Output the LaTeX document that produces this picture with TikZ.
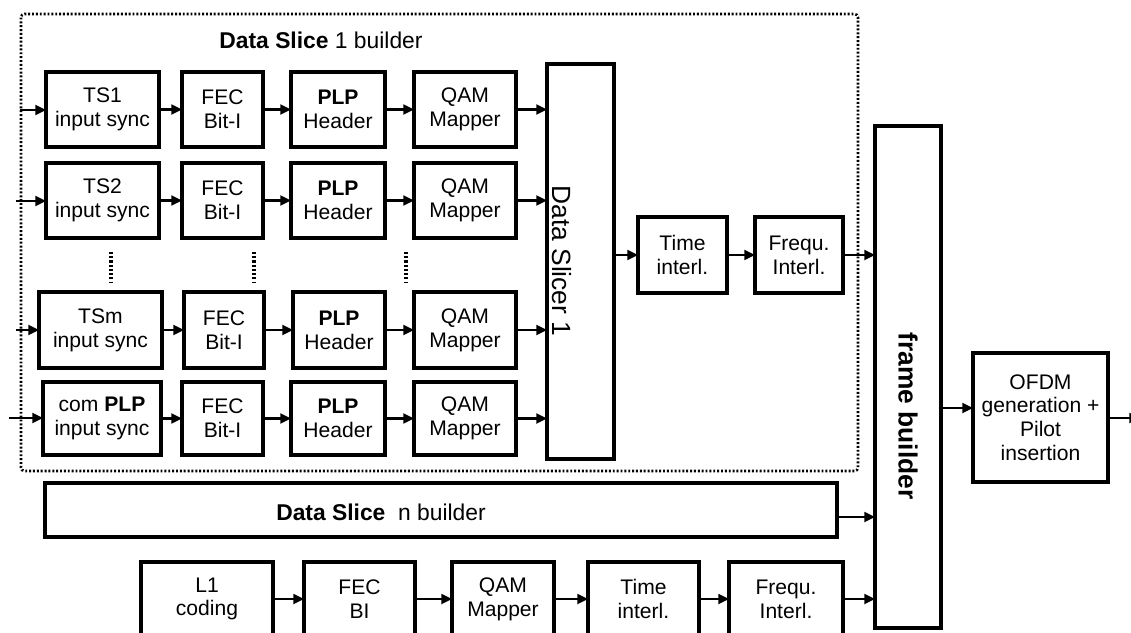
\documentclass[tikz,border=0pt]{standalone}
\usepackage{fontspec}
\setmainfont{Liberation Sans}
\usetikzlibrary{arrows.meta}
\newcommand{\blk}[7][]{\node[blk,#1,minimum width={(#5-#3)*0.02cm},minimum height={(#6-#4)*0.02cm}] (#2) at ({(#3+#5)/2},{(#4+#6)/2}) {#7};}
\tikzset{
  blk/.style={draw, line width=1.8pt, rectangle, inner sep=0pt, outer sep=0pt, align=center, fill=white, font=\fontsize{12}{13.5}\selectfont},
  arr/.style={line width=1.5pt, -{Triangle[length=6pt,width=5.5pt]}},
  dotbox/.style={line width=1.5pt, dash pattern=on 1.1pt off 1.1pt, rounded corners=2pt},
  vdot/.style={line width=1.8pt, dash pattern=on 1.2pt off 1.2pt},
  big/.style={font=\fontsize{15}{17}\selectfont, rotate=-90, inner sep=0pt},
  ttl/.style={font=\fontsize{13}{15}\selectfont, inner sep=0pt}
}
\begin{document}
\begin{tikzpicture}[x=0.02cm, y=-0.02cm]
\useasboundingbox (0,0) rectangle (1131,632);
% Data Slice 1 builder frame
\draw[dotbox] (21,14) rectangle (858,471);
\node[ttl] (title) at (321,40) {\textbf{Data Slice} 1 builder};
% row 1
\blk{ts1}{46}{72}{159}{147}{TS1\\input sync}
\blk{fec1}{182}{72}{263}{147}{FEC\\Bit-I}
\blk{plp1}{291}{72}{385}{147}{\textbf{PLP}\\Header}
\blk{qam1}{414}{72}{516}{147}{QAM\\Mapper}
% row 2
\blk{ts2}{46}{163}{159}{238}{TS2\\input sync}
\blk{fec2}{182}{163}{263}{238}{FEC\\Bit-I}
\blk{plp2}{291}{163}{385}{238}{\textbf{PLP}\\Header}
\blk{qam2}{414}{163}{516}{238}{QAM\\Mapper}
% row 3
\blk{ts3}{39}{292}{162}{368}{TSm\\input sync}
\blk{fec3}{184}{292}{264}{368}{FEC\\Bit-I}
\blk{plp3}{293}{292}{385}{368}{\textbf{PLP}\\Header}
\blk{qam3}{414}{292}{516}{368}{QAM\\Mapper}
% row 4
\blk{ts4}{43}{382}{161}{455}{com \textbf{PLP}\\input sync}
\blk{fec4}{182}{382}{263}{455}{FEC\\Bit-I}
\blk{plp4}{291}{382}{385}{455}{\textbf{PLP}\\Header}
\blk{qam4}{414}{382}{516}{455}{QAM\\Mapper}
% vertical dots
\draw[vdot] (111,252) -- (111,283);
\draw[vdot] (254,252) -- (254,283);
\draw[vdot] (406,252) -- (406,283);
% slicer
\blk{slicer}{547}{64}{614}{459}{}
\node[big] (slicerl) at (562,261) {Data Slicer 1};
\blk{time1}{638}{217}{727}{293}{Time\\interl.}
\blk{freq1}{755}{217}{843}{293}{Frequ.\\Interl.}
% frame builder
\blk{frame}{875}{126}{941}{628}{}
\node[big] (framel) at (908,416) {\textbf{frame builder}};
\blk{ofdm}{973}{353}{1108}{482}{OFDM\\generation +\\Pilot\\insertion}
% data slice n
\blk{dsn}{45}{483}{837}{537}{}
\node[ttl] (dsnl) at (381,512) {\textbf{Data Slice}\ \ n builder};
% bottom row
\blk{l1}{141}{562}{273}{636}{L1\\coding}
\blk{fecb}{304}{562}{415}{636}{FEC\\BI}
\blk{qamb}{452}{562}{554}{636}{QAM\\Mapper}
\blk{timeb}{588}{562}{699}{636}{Time\\interl.}
\blk{freqb}{729}{562}{843}{636}{Frequ.\\Interl.}
% coordinates
\coordinate (in1) at (20,110);
\coordinate (in2) at (16,201);
\coordinate (in3) at (16,330);
\coordinate (in4) at (9,418);
\coordinate (yn) at (0,517);
\coordinate (yo) at (0,408);
\coordinate (out) at (1140,418);
% arrows
\foreach \r in {1,2,3,4}{
  \draw[arr] (in\r) -- (ts\r.west |- in\r);
  \draw[arr] (ts\r) -- (fec\r);
  \draw[arr] (fec\r) -- (plp\r);
  \draw[arr] (plp\r) -- (qam\r);
  \draw[arr] (qam\r.east) -- (qam\r -| slicer.west);
}
\draw[arr] (slicer.east |- time1) -- (time1);
\draw[arr] (time1) -- (freq1);
\draw[arr] (freq1.east) -- (freq1 -| frame.west);
\draw[arr] (dsn.east |- yn) -- (frame.west |- yn);
\draw[arr] (l1) -- (fecb);
\draw[arr] (fecb) -- (qamb);
\draw[arr] (qamb) -- (timeb);
\draw[arr] (timeb) -- (freqb);
\draw[arr] (freqb.east) -- (freqb -| frame.west);
\draw[arr] (frame.east |- yo) -- (ofdm.west |- yo);
\draw[arr] (ofdm.east |- out) -- (out);
\end{tikzpicture}
\end{document}
